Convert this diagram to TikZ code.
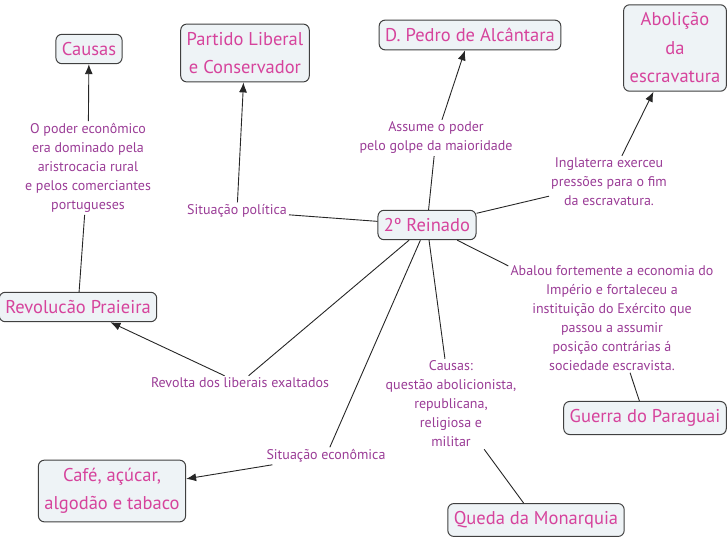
\documentclass[tikz,border=0pt]{standalone}
\usepackage{fontspec}
\setmainfont{PT Sans}
\usepackage{tikz}
\usetikzlibrary{arrows.meta}
\definecolor{boxfill}{HTML}{EEF3F6}
\definecolor{boxline}{HTML}{404040}
\definecolor{conceptpink}{HTML}{D6439C}
\definecolor{linkpurple}{HTML}{9A3C96}
\tikzstyle{concept} = [rectangle, rounded corners=6pt, draw=boxline, line width=1pt, fill=boxfill, text=conceptpink, align=center, font=\fontsize{18.5}{28.5}\selectfont, inner xsep=6pt, inner ysep=8pt]
\tikzstyle{link} = [align=center, text=linkpurple, font=\fontsize{14}{19}\selectfont, inner sep=2pt]
\tikzstyle{line} = [line width=0.9pt, black!85]
\tikzstyle{arrow} = [line width=0.9pt, black!85, -{Latex[length=10pt,width=8pt]}]

\begin{document}
\begin{tikzpicture}[x=1pt, y=-1pt]
        \useasboundingbox (0,0) rectangle (728,546);
        % concepts
        \node (reinado) [concept] at (427,225) {2º Reinado};
        \node (causas) [concept] at (89,49) {Causas};
        \node (partido) [concept] at (245,53) {Partido Liberal\\e Conservador};
        \node (pedro) [concept] at (470,35) {D. Pedro de Alcântara};
        \node (abolicao) [concept] at (675,48) {Abolição\\da\\escravatura};
        \node (praieira) [concept] at (78,307) {Revolucão Praieira};
        \node (cafe) [concept] at (112,491) {Café, açúcar,\\algodão e tabaco};
        \node (guerra) [concept] at (645,418) {Guerra do Paraguai};
        \node (queda) [concept] at (536,520) {Queda da Monarquia};

        % linking phrases
        \node (poder) [link] at (88,168) {O poder econômico\\era dominado pela\\aristrocacia rural\\e pelos comerciantes\\portugueses};
        \node (politica) [link] at (237,211) {Situação política};
        \node (assume) [link] at (436,138) {Assume o poder\\pelo golpe da maioridade};
        \node (inglaterra) [link] at (609,182) {Inglaterra exerceu\\pressões para o fim\\da escravatura.};
        \node (abalou) [link] at (612,318) {Abalou fortemente a economia do\\Império e fortaleceu a\\instituição do Exército que\\passou a assumir\\posição contrárias á\\sociedade escravista.};
        \node (revolta) [link] at (240,383) {Revolta dos liberais exaltados};
        \node (motivos) [link] at (451,404) {Causas:\\questão abolicionista,\\republicana,\\religiosa e\\militar};
        \node (economica) [link] at (326,456) {Situação econômica};

        \draw [line] (reinado) -- (politica);
        \draw [arrow] (politica) -- (partido);
        \draw [line] (reinado) -- (assume);
        \draw [arrow] (assume) -- (pedro);
        \draw [line] (reinado) -- (inglaterra);
        \draw [arrow] (inglaterra) -- (abolicao);
        \draw [line] (reinado) -- (abalou);
        \draw [line] (abalou) -- (guerra);
        \draw [line] (reinado) -- (motivos);
        \draw [line] (motivos) -- (queda);
        \draw [line] (reinado) -- (revolta);
        \draw [arrow] (revolta) -- (praieira);
        \draw [line] (reinado) -- (economica);
        \draw [arrow] (economica) -- (cafe);
        \draw [line] (praieira) -- (poder);
        \draw [arrow] (poder) -- (causas);
    \end{tikzpicture}
\end{document}
